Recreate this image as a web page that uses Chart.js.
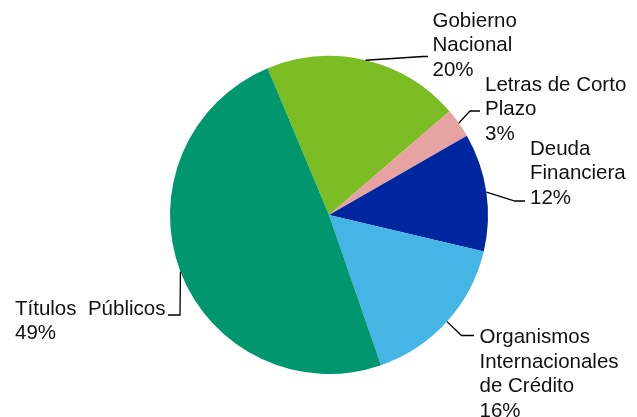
<!DOCTYPE html>
<html>
<head>
<meta charset="utf-8">
<script src="https://cdn.jsdelivr.net/npm/chart.js@4"></script>
<style>
html,body{margin:0;padding:0;background:#fff;}
canvas{display:block;}
</style>
</head>
<body>
<canvas id="c" width="637" height="417"></canvas>
<script>
// Data
const categories = ["Gobierno Nacional", "Letras de Corto Plazo", "Deuda Financiera", "Organismos Internacionales de Crédito", "Títulos Públicos"];
const values = [20, 3, 12, 16, 49];
const colors = ["#7BBD23", "#E6A3A2", "#0027A0", "#44B5E5", "#00976F"];
const labelLines = [["Gobierno", "Nacional"], ["Letras de Corto", "Plazo"], ["Deuda", "Financiera"], ["Organismos", "Internacionales", "de Crédito"], ["Títulos  Públicos"]];

// Label layout (text position, leader elbow and end)
const labelLayout = [
  {tx: 432.5, ty: 27, elbow: [423, 56.5], end: [428, 56.5]},
  {tx: 485, ty: 90.7, elbow: [470, 111], end: [480, 111]},
  {tx: 530, ty: 154.7, elbow: [515, 201], end: [525, 201]},
  {tx: 479.5, ty: 343.3, elbow: [461.5, 335.5], end: [474, 335.5]},
  {tx: 15, ty: 314.7, elbow: [180, 315], end: [168, 315]}
];
const lineHeight = 24.4;

const labelPlugin = {
  id: 'pieLabels',
  afterDraw(chart) {
    const ctx = chart.ctx;
    const meta = chart.getDatasetMeta(0);
    ctx.save();
    ctx.font = '20.5px "Liberation Sans", Arial, sans-serif';
    ctx.fillStyle = '#111';
    ctx.textBaseline = 'alphabetic';
    ctx.textAlign = 'left';
    ctx.strokeStyle = '#000';
    ctx.lineWidth = 1.3;
    meta.data.forEach((arc, i) => {
      const p = arc.getProps(['x', 'y', 'startAngle', 'endAngle', 'outerRadius'], true);
      const mid = (p.startAngle + p.endAngle) / 2;
      const sx = p.x + Math.cos(mid) * p.outerRadius;
      const sy = p.y + Math.sin(mid) * p.outerRadius;
      const L = labelLayout[i];
      ctx.beginPath();
      ctx.moveTo(sx, sy);
      ctx.lineTo(L.elbow[0], L.elbow[1]);
      ctx.lineTo(L.end[0], L.end[1]);
      ctx.stroke();
      const lines = labelLines[i].concat([values[i] + '%']);
      lines.forEach((t, k) => ctx.fillText(t, L.tx, L.ty + k * lineHeight));
    });
    ctx.restore();
  }
};

new Chart(document.getElementById('c'), {
  type: 'pie',
  data: {
    labels: categories,
    datasets: [{
      data: values,
      backgroundColor: colors,
      borderWidth: 0,
      hoverOffset: 0
    }]
  },
  options: {
    responsive: false,
    animation: false,
    devicePixelRatio: 1,
    rotation: -22.7,
    layout: {padding: {top: 56, bottom: 43, left: 21, right: 0}},
    plugins: {legend: {display: false}, tooltip: {enabled: false}}
  },
  plugins: [labelPlugin]
});
</script>
</body>
</html>
